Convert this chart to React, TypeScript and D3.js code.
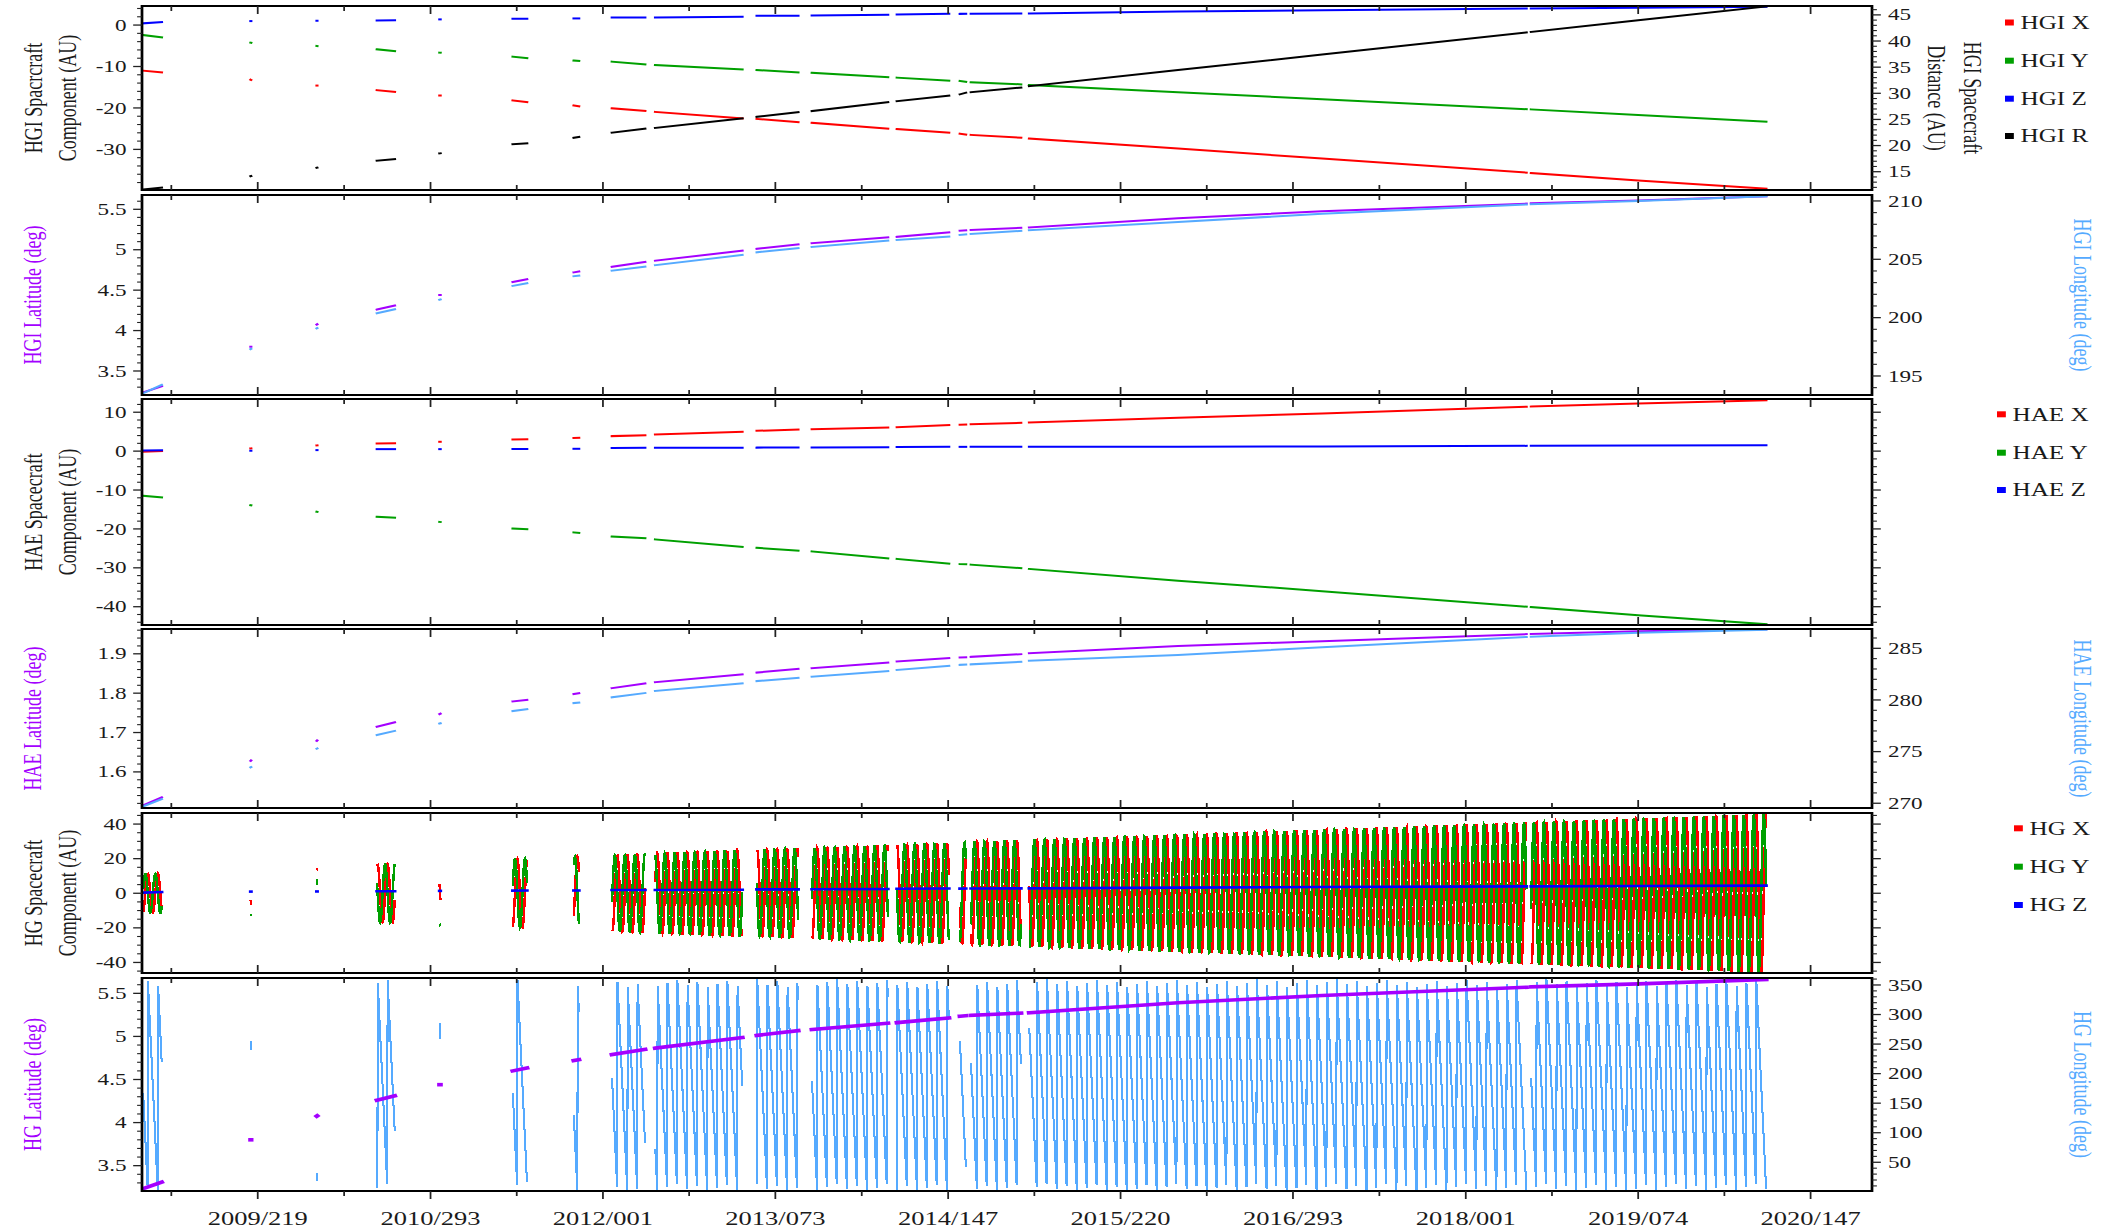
import React from "react";
import * as d3 from "d3";

// ------------------------------------------------------------------
// DATA
// ------------------------------------------------------------------

// Time spans where the spacecraft ephemeris has data (YYYY/DDD)
const SEGMENTS: [string, string][] = [
  ["2008/294", "2008/341"],
  ["2009/201", "2009/202"],
  ["2010/004", "2010/005"],
  ["2010/157", "2010/202"],
  ["2010/316", "2010/318"],
  ["2011/137", "2011/173"],
  ["2011/292", "2011/305"],
  ["2012/024", "2012/108"],
  ["2012/134", "2012/355"],
  ["2013/026", "2013/131"],
  ["2013/166", "2013/359"],
  ["2014/017", "2014/149"],
  ["2014/177", "2014/192"],
  ["2014/205", "2014/332"],
  ["2014/353", "2018/155"],
  ["2018/167", "2020/034"],
];

// Dates at which the series values were read
const ANCHOR_DATES = [
  "2008/294", "2008/341", "2009/201", "2009/202", "2010/004", "2010/005",
  "2010/157", "2010/202", "2010/316", "2010/318", "2011/137", "2011/173",
  "2011/292", "2011/305", "2012/024", "2012/108", "2012/134", "2012/355",
  "2013/026", "2013/131", "2013/166", "2013/359", "2014/017", "2014/149",
  "2014/177", "2014/192", "2014/205", "2014/332", "2014/353", "2016/001",
  "2017/001", "2018/155", "2018/167", "2019/074", "2020/034",
];

const HGI_X = [
  -11.0, -11.4, -13.2, -13.25, -14.6, -14.6, -15.7, -16.1, -17.0, -17.0, -18.2, -18.6,
  -19.4, -19.6, -20.1, -20.7, -20.96, -22.5, -22.65, -23.4, -23.6, -25.0, -25.1, -25.95,
  -26.2, -26.4, -26.5, -27.2, -27.4, -29.8, -32.2, -35.6, -35.7, -37.5, -39.5,
];
const HGI_Y = [
  -2.4, -2.95, -4.25, -4.27, -5.05, -5.06, -5.86, -6.27, -6.65, -6.67, -7.63, -8.0,
  -8.55, -8.65, -8.84, -9.48, -9.64, -10.7, -10.84, -11.4, -11.5, -12.6, -12.7, -13.4,
  -13.5, -13.7, -13.8, -14.3, -14.46, -16.2, -17.9, -20.3, -20.35, -21.7, -23.3,
];
const HGI_Z = [
  0.41, 0.72, 0.96, 0.96, 1.04, 1.04, 1.13, 1.15, 1.37, 1.37, 1.52, 1.55,
  1.6, 1.6, 1.85, 1.85, 1.85, 2.0, 2.25, 2.25, 2.33, 2.49, 2.57, 2.73,
  2.7, 2.72, 2.75, 2.81, 2.81, 3.25, 3.6, 4.0, 4.0, 4.2, 4.4,
];
const HGI_R = [
  11.6, 11.95, 14.15, 14.18, 15.75, 15.77, 17.1, 17.4, 18.5, 18.52, 20.25, 20.44,
  21.5, 21.65, 22.47, 23.24, 23.37, 25.2, 25.5, 26.4, 26.6, 28.3, 28.5, 29.56,
  29.8, 30.1, 30.2, 31.1, 31.36, 34.44, 37.4, 41.65, 41.75, 43.96, 46.6,
];
const HGI_LAT = [
  3.235, 3.31, 3.8, 3.8, 4.075, 4.078, 4.26, 4.31, 4.44, 4.44, 4.6, 4.634,
  4.72, 4.73, 4.79, 4.85, 4.864, 4.988, 5.012, 5.067, 5.08, 5.153, 5.16, 5.215,
  5.235, 5.24, 5.244, 5.27, 5.275, 5.39, 5.475, 5.57, 5.575, 5.61, 5.66,
];
const HGI_LON = [
  193.52, 194.23, 197.3, 197.32, 199.08, 199.1, 200.38, 200.72, 201.53, 201.55, 202.72, 202.95,
  203.55, 203.6, 204.03, 204.37, 204.5, 205.37, 205.6, 205.95, 206.06, 206.6, 206.66, 206.94,
  207.09, 207.13, 207.17, 207.43, 207.5, 208.2, 208.9, 209.7, 209.72, 210.0, 210.4,
];
const HAE_X = [
  -0.17, 0.0, 0.69, 0.7, 1.46, 1.47, 1.97, 2.05, 2.4, 2.4, 3.0, 3.05,
  3.4, 3.45, 3.86, 4.1, 4.28, 4.96, 5.22, 5.57, 5.65, 6.09, 6.17, 6.68,
  6.8, 6.85, 6.94, 7.28, 7.37, 8.6, 9.7, 11.4, 11.45, 12.26, 13.1,
];
const HAE_Y = [
  -11.5, -11.9, -13.9, -13.92, -15.6, -15.62, -16.9, -17.1, -18.2, -18.22, -19.9, -20.05,
  -20.9, -21.0, -21.95, -22.4, -22.7, -24.6, -24.86, -25.6, -25.8, -27.6, -27.7, -28.9,
  -29.05, -29.1, -29.2, -30.1, -30.3, -33.3, -36.0, -40.0, -40.1, -42.2, -44.5,
];
const HAE_Z = [
  0.18, 0.2, 0.1, 0.1, 0.26, 0.26, 0.51, 0.51, 0.51, 0.51, 0.55, 0.55,
  0.6, 0.6, 0.8, 0.85, 0.86, 0.86, 0.9, 0.92, 0.94, 0.98, 1.05, 1.1,
  1.1, 1.1, 1.1, 1.12, 1.12, 1.15, 1.2, 1.35, 1.36, 1.45, 1.54,
];
const HAE_LAT = [
  1.515, 1.535, 1.628, 1.629, 1.679, 1.68, 1.715, 1.726, 1.747, 1.748, 1.779, 1.783,
  1.798, 1.8, 1.8127, 1.8245, 1.828, 1.848, 1.8524, 1.862, 1.8636, 1.8778, 1.8804, 1.889,
  1.8905, 1.891, 1.8923, 1.899, 1.9017, 1.92, 1.932, 1.95, 1.9505, 1.957, 1.962,
];
const HAE_LON = [
  269.7, 270.4, 273.48, 273.5, 275.28, 275.3, 276.6, 277.0, 277.72, 277.74, 278.93, 279.1,
  279.7, 279.75, 280.26, 280.67, 280.87, 281.6, 281.83, 282.15, 282.25, 282.8, 282.9, 283.3,
  283.4, 283.42, 283.45, 283.7, 283.8, 284.35, 285.1, 286.1, 286.12, 286.5, 286.8,
];

const HG_ROTATION_DAYS = 25.38; // spacing of the longitude wraps
const HG_LON_START = 167; // HG longitude at first sample (deg)

// Tick labels
const X_TICKS = [
  "2009/219", "2010/293", "2012/001", "2013/073", "2014/147",
  "2015/220", "2016/293", "2018/001", "2019/074", "2020/147",
];
const HGI_COMP_TICKS = [0, -10, -20, -30];
const HGI_DIST_TICKS = [15, 20, 25, 30, 35, 40, 45];
const LAT_TICKS = [3.5, 4, 4.5, 5, 5.5];
const HGI_LON_TICKS = [195, 200, 205, 210];
const HAE_COMP_TICKS = [10, 0, -10, -20, -30, -40];
const HAE_LAT_TICKS = [1.6, 1.7, 1.8, 1.9];
const HAE_LON_TICKS = [270, 275, 280, 285];
const HG_COMP_TICKS = [40, 20, 0, -20, -40];
const HG_LON_TICKS = [50, 100, 150, 200, 250, 300, 350];

const HGI_LEGEND = ["HGI X", "HGI Y", "HGI Z", "HGI R"];
const HAE_LEGEND = ["HAE X", "HAE Y", "HAE Z"];
const HG_LEGEND = ["HG X", "HG Y", "HG Z"];

// ------------------------------------------------------------------
// STYLE / LAYOUT
// ------------------------------------------------------------------
const W = 2103;
const H = 1232;
const SX = 1.36; // the reference is stretched horizontally
const VBW = W / SX;
const fx = (v: number) => v / SX;

const RED = "#ff0000";
const GREEN = "#00a000";
const BLUE = "#0000ff";
const BLACK = "#000000";
const PURPLE = "#a400ff";
const LBLUE = "#55aaff";
const TXT = "#1a1a1a";
const FONT = "'Liberation Serif','Times New Roman',Times,serif";

const PLOT_L = 142;
const PLOT_R = 1872;
const DAY = 86400000;

const doy = (s: string) => {
  const [y, d] = s.split("/").map(Number);
  return new Date(y, 0, d);
};

type AxisCfg = { domain: [number, number]; major: number[]; step: number; labels: boolean };
type PanelCfg = { top: number; bottom: number; left: AxisCfg; right: AxisCfg };

const PANELS: PanelCfg[] = [
  { top: 6, bottom: 190,
    left: { domain: [-39.8, 4.6], major: HGI_COMP_TICKS, step: 2, labels: true },
    right: { domain: [11.5, 46.7], major: HGI_DIST_TICKS, step: 1, labels: true } },
  { top: 195, bottom: 395,
    left: { domain: [3.203, 5.677], major: LAT_TICKS, step: 0.1, labels: true },
    right: { domain: [193.37, 210.51], major: HGI_LON_TICKS, step: 1, labels: true } },
  { top: 399, bottom: 625,
    left: { domain: [-44.7, 13.4], major: HAE_COMP_TICKS, step: 2, labels: true },
    right: { domain: [-44.7, 13.4], major: HAE_COMP_TICKS, step: 2, labels: false } },
  { top: 629, bottom: 808,
    left: { domain: [1.5083, 1.963], major: HAE_LAT_TICKS, step: 0.02, labels: true },
    right: { domain: [269.54, 286.87], major: HAE_LON_TICKS, step: 1, labels: true } },
  { top: 813, bottom: 973,
    left: { domain: [-46.1, 46.4], major: HG_COMP_TICKS, step: 5, labels: true },
    right: { domain: [-46.1, 46.4], major: HG_COMP_TICKS, step: 5, labels: false } },
  { top: 978, bottom: 1191,
    left: { domain: [3.206, 5.678], major: LAT_TICKS, step: 0.1, labels: true },
    right: { domain: [1.4, 361.8], major: HG_LON_TICKS, step: 10, labels: true } },
];

const LEFT_TITLES: { lines: string[]; color: string }[] = [
  { lines: ["HGI Spacrcraft", "Component (AU)"], color: TXT },
  { lines: ["HGI Latitude (deg)"], color: PURPLE },
  { lines: ["HAE Spacecraft", "Component (AU)"], color: TXT },
  { lines: ["HAE Latitude (deg)"], color: PURPLE },
  { lines: ["HG Spacecraft", "Component (AU)"], color: TXT },
  { lines: ["HG Latitude (deg)"], color: PURPLE },
];
const RIGHT_TITLES: ({ lines: string[]; color: string } | null)[] = [
  { lines: ["HGI Spacecraft", "Distance (AU)"], color: TXT },
  { lines: ["HGI Longitude (deg)"], color: LBLUE },
  null,
  { lines: ["HAE Longitude (deg)"], color: LBLUE },
  null,
  { lines: ["HG Longitude (deg)"], color: LBLUE },
];

function minorTicks(domain: [number, number], step: number, majors: number[]) {
  const a = Math.min(domain[0], domain[1]);
  const b = Math.max(domain[0], domain[1]);
  const out: number[] = [];
  for (let k = Math.ceil(a / step - 1e-6); k * step <= b + 1e-6; k++) {
    const v = +(k * step).toFixed(6);
    if (!majors.some((m) => Math.abs(m - v) < step * 1e-3)) out.push(v);
  }
  return out;
}

type Pt = { t: Date; v: number };

export default function App() {
  const x = d3
    .scaleTime()
    .domain([new Date(2008, 9, 17), new Date(2020, 9, 29)])
    .range([fx(PLOT_L), fx(PLOT_R)]);

  const anchorT = ANCHOR_DATES.map(doy);
  const segs = SEGMENTS.map(([a, b]) => [doy(a), doy(b)] as [Date, Date]);

  // points of a read series inside each segment
  const segPoints = (vals: number[]): Pt[][] =>
    segs.map(([s, e]) =>
      anchorT
        .map((t, i) => ({ t, v: vals[i] }))
        .filter((p) => +p.t >= +s && +p.t <= +e)
    );

  // HG frame series, sampled daily inside each segment
  const xAt = d3.scaleTime().domain(anchorT).range(HGI_X).clamp(true);
  const yAt = d3.scaleTime().domain(anchorT).range(HGI_Y).clamp(true);
  const t0 = +segs[0][0];
  const hgX: Pt[][] = [];
  const hgY: Pt[][] = [];
  const hgLon: Pt[][] = [];
  segs.forEach(([s, e]) => {
    const px: Pt[] = [], py: Pt[] = [], pl: Pt[] = [];
    for (let tt = +s; tt <= +e + 1; tt += DAY) {
      const t = new Date(Math.min(tt, +e));
      const amp = Math.hypot(xAt(t), yAt(t));
      const lon = (((HG_LON_START - (360 * (+t - t0)) / (HG_ROTATION_DAYS * DAY)) % 360) + 360) % 360;
      const r = (lon * Math.PI) / 180;
      px.push({ t, v: amp * Math.cos(r) });
      py.push({ t, v: amp * Math.sin(r) });
      pl.push({ t, v: lon });
      if (tt >= +e) break;
    }
    hgX.push(px);
    hgY.push(py);
    hgLon.push(pl);
  });

  type Series = { segs: Pt[][]; color: string; axis: "L" | "R"; width: number; cap?: string; crisp?: boolean };
  const SERIES: Series[][] = [
    [
      { segs: segPoints(HGI_X), color: RED, axis: "L", width: 2 },
      { segs: segPoints(HGI_Y), color: GREEN, axis: "L", width: 2 },
      { segs: segPoints(HGI_Z), color: BLUE, axis: "L", width: 2 },
      { segs: segPoints(HGI_R), color: BLACK, axis: "R", width: 2 },
    ],
    [
      { segs: segPoints(HGI_LAT), color: PURPLE, axis: "L", width: 2 },
      { segs: segPoints(HGI_LON), color: LBLUE, axis: "R", width: 2 },
    ],
    [
      { segs: segPoints(HAE_X), color: RED, axis: "L", width: 2 },
      { segs: segPoints(HAE_Y), color: GREEN, axis: "L", width: 2 },
      { segs: segPoints(HAE_Z), color: BLUE, axis: "L", width: 2 },
    ],
    [
      { segs: segPoints(HAE_LAT), color: PURPLE, axis: "L", width: 2 },
      { segs: segPoints(HAE_LON), color: LBLUE, axis: "R", width: 2 },
    ],
    [
      { segs: hgX, color: RED, axis: "L", width: 1.8, cap: "butt", crisp: true },
      { segs: hgY, color: GREEN, axis: "L", width: 1.8, cap: "butt", crisp: true },
      { segs: segPoints(HGI_Z), color: BLUE, axis: "L", width: 2.6 },
    ],
    [
      { segs: hgLon, color: LBLUE, axis: "R", width: 1.5, cap: "butt", crisp: true },
      { segs: segPoints(HGI_LAT), color: PURPLE, axis: "L", width: 3.6 },
    ],
  ];

  // x ticks
  const majorX = X_TICKS.map(doy);
  const minorX: Date[] = [];
  for (let i = 0; i < majorX.length - 1; i++) {
    minorX.push(new Date((+majorX[i] + +majorX[i + 1]) / 2));
  }
  minorX.unshift(new Date(+majorX[0] - (+majorX[1] - +majorX[0]) / 2));
  const [xd0, xd1] = x.domain();
  const minorXIn = minorX.filter((d) => +d >= +xd0 && +d <= +xd1);

  const L = fx(PLOT_L);
  const R = fx(PLOT_R);
  const MAJ = 6.5;
  const MIN = 3.6;
  const XMAJ = 8;
  const XMIN = 5;
  const TICK_FS = 17;

  const panels = PANELS.map((p, i) => {
    const yL = d3.scaleLinear().domain(p.left.domain).range([p.bottom, p.top]);
    const yR = d3.scaleLinear().domain(p.right.domain).range([p.bottom, p.top]);
    const lineL = d3.line<Pt>().x((d) => x(d.t)).y((d) => yL(d.v));
    const lineR = d3.line<Pt>().x((d) => x(d.t)).y((d) => yR(d.v));
    const isLast = i === PANELS.length - 1;
    const cy = (p.top + p.bottom) / 2;
    const lt = LEFT_TITLES[i];
    const rt = RIGHT_TITLES[i];
    return (
      <g key={"p" + i}>
        <defs>
          <clipPath id={"clip" + i}>
            <rect x={L} y={p.top} width={R - L} height={p.bottom - p.top} />
          </clipPath>
        </defs>
        {/* data */}
        <g clipPath={`url(#clip${i})`}>
          {SERIES[i].map((s, si) =>
            s.segs.map((pts, k) =>
              pts.length ? (
                <path
                  key={`s${si}-${k}`}
                  d={(s.axis === "L" ? lineL : lineR)(pts) || ""}
                  fill="none"
                  stroke={s.color}
                  strokeWidth={s.width}
                  strokeLinecap={(s.cap as any) || "square"}
                  strokeLinejoin="miter"
                  shapeRendering={s.crisp ? "crispEdges" : undefined}
                />
              ) : null
            )
          )}
        </g>
        {/* frame */}
        <rect x={L} y={p.top} width={R - L} height={p.bottom - p.top} fill="none" stroke="#000" strokeWidth={2} />
        {/* x ticks: top inward */}
        {majorX.filter((d) => +d >= +xd0 && +d <= +xd1).map((d, k) => (
          <line key={"xt" + k} x1={x(d)} x2={x(d)} y1={p.top} y2={p.top + XMAJ} stroke="#222" strokeWidth={1.3} />
        ))}
        {minorXIn.map((d, k) => (
          <line key={"xtm" + k} x1={x(d)} x2={x(d)} y1={p.top} y2={p.top + XMIN} stroke="#222" strokeWidth={1.3} />
        ))}
        {/* x ticks: bottom */}
        {majorX.filter((d) => +d >= +xd0 && +d <= +xd1).map((d, k) => (
          <line key={"xb" + k} x1={x(d)} x2={x(d)} y1={p.bottom} y2={isLast ? p.bottom + XMAJ : p.bottom - XMAJ} stroke="#222" strokeWidth={1.3} />
        ))}
        {minorXIn.map((d, k) => (
          <line key={"xbm" + k} x1={x(d)} x2={x(d)} y1={p.bottom} y2={isLast ? p.bottom + XMIN : p.bottom - XMIN} stroke="#222" strokeWidth={1.3} />
        ))}
        {/* left axis */}
        {p.left.major.map((v, k) => (
          <g key={"lm" + k}>
            <line x1={L - MAJ} x2={L} y1={yL(v)} y2={yL(v)} stroke="#222" strokeWidth={1.3} />
            {p.left.labels && (
              <text x={fx(126.5)} y={yL(v) + TICK_FS * 0.33} textAnchor="end" fontSize={TICK_FS} fill={TXT}>
                {String(v)}
              </text>
            )}
          </g>
        ))}
        {minorTicks(p.left.domain, p.left.step, p.left.major).map((v, k) => (
          <line key={"ln" + k} x1={L - MIN} x2={L} y1={yL(v)} y2={yL(v)} stroke="#222" strokeWidth={1.1} />
        ))}
        {/* right axis */}
        {p.right.major.map((v, k) => (
          <g key={"rm" + k}>
            <line x1={R} x2={R + MAJ} y1={yR(v)} y2={yR(v)} stroke="#222" strokeWidth={1.3} />
            {p.right.labels && (
              <text x={fx(1888)} y={yR(v) + TICK_FS * 0.33} textAnchor="start" fontSize={TICK_FS} fill={TXT}>
                {String(v)}
              </text>
            )}
          </g>
        ))}
        {minorTicks(p.right.domain, p.right.step, p.right.major).map((v, k) => (
          <line key={"rn" + k} x1={R} x2={R + MIN} y1={yR(v)} y2={yR(v)} stroke="#222" strokeWidth={1.1} />
        ))}
        {/* left title */}
        {lt.lines.map((ln, k) => (
          <text
            key={"lt" + k}
            transform={`translate(${lt.lines.length === 1 ? fx(41) : k === 0 ? fx(42.4) : fx(76)},${cy}) rotate(-90)`}
            textAnchor="middle"
            fontSize={18}
            fill={lt.color}
          >
            {ln}
          </text>
        ))}
        {/* right title */}
        {rt &&
          rt.lines.map((ln, k) => (
            <text
              key={"rt" + k}
              transform={`translate(${rt.lines.length === 1 ? fx(2074) : k === 0 ? fx(1963.5) : fx(1928)},${cy}) rotate(90)`}
              textAnchor="middle"
              fontSize={18}
              fill={rt.color}
            >
              {ln}
            </text>
          ))}
      </g>
    );
  });

  const legend = (
    names: string[],
    colors: string[],
    rows: number[],
    sqX: number,
    txtX: number,
    key: string
  ) => (
    <g key={key}>
      {names.map((n, k) => (
        <g key={n}>
          <rect x={fx(sqX)} y={rows[k] - 3} width={6.5} height={6} fill={colors[k]} />
          <text x={fx(txtX)} y={rows[k] + 6.5} fontSize={18.5} fill={TXT}>
            {n}
          </text>
        </g>
      ))}
    </g>
  );

  return (
    <svg
      width={W}
      height={H}
      viewBox={`0 0 ${VBW} ${H}`}
      preserveAspectRatio="none"
      style={{ position: "absolute", left: 0, top: 0, display: "block", background: "#fff" }}
      fontFamily={FONT}
    >
      <rect x={0} y={0} width={VBW} height={H} fill="#fff" />
      {panels}
      {/* bottom x labels */}
      {majorX.map((d, k) => (
        <text key={"xl" + k} x={x(d)} y={1225} textAnchor="middle" fontSize={19.5} fill={TXT}>
          {X_TICKS[k]}
        </text>
      ))}
      {legend(HGI_LEGEND, [RED, GREEN, BLUE, BLACK], [22.5, 60.7, 98.7, 136], 2005, 2020.5, "lg1")}
      {legend(HAE_LEGEND, [RED, GREEN, BLUE], [414.3, 452.7, 490], 1997, 2012.5, "lg2")}
      {legend(HG_LEGEND, [RED, GREEN, BLUE], [828.3, 866.7, 905], 2014, 2029.5, "lg3")}
    </svg>
  );
}
